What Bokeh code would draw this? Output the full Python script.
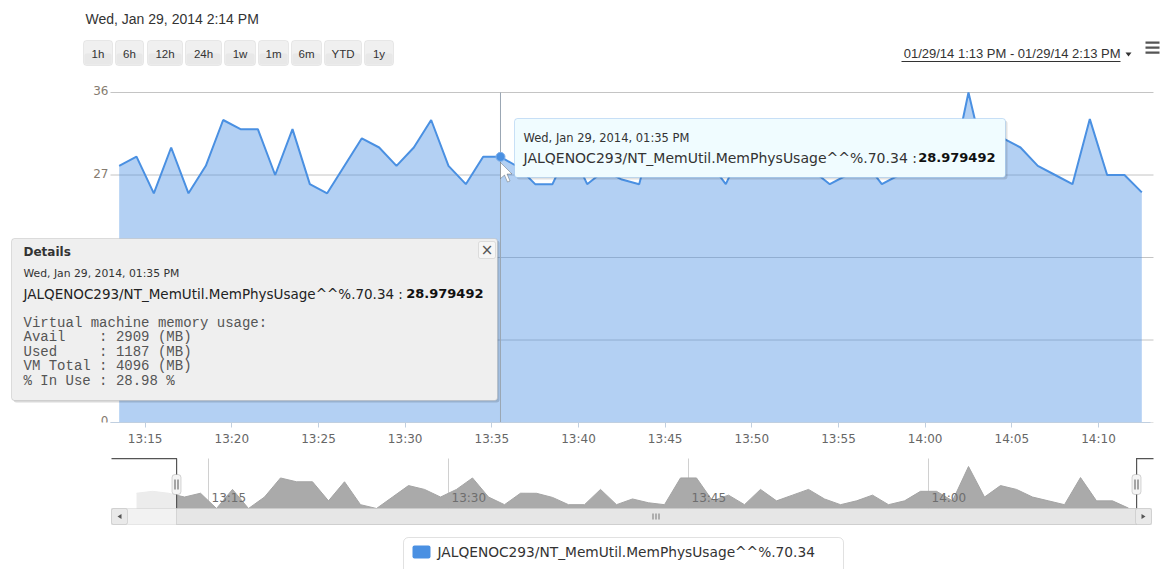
import pandas as pd
from bokeh.plotting import figure
from bokeh.layouts import column
from bokeh.models import (ColumnDataSource, FixedTicker, DatetimeTickFormatter,
                          Range1d, BoxAnnotation, Label, PolyAnnotation)
from bokeh.core.properties import value
from bokeh.embed import file_html
from bokeh.resources import INLINE

# ---------------- data ----------------
series_name = "JALQENOC293/NT_MemUtil.MemPhysUsage^^%.70.34"
first_sample = "2014-01-29 13:13:30"
mem_usage = [28.0, 29.0, 25.0, 30.0, 25.0, 28.0, 33.0, 32.0, 32.0, 27.0,
             32.0, 26.0, 25.0, 28.0, 31.0, 30.0, 28.0, 30.0, 33.0, 28.0,
             26.0, 29.0, 28.979492, 27.9, 26.0, 26.0, 30.0, 26.0, 27.5, 26.5,
             26.0, 33.0, 33.0, 27.0, 28.5, 26.0, 30.0, 27.0, 28.5, 30.0,
             27.5, 26.0, 27.0, 28.5, 26.0, 27.0, 29.5, 29.5, 27.0, 36.0,
             28.0, 31.0, 30.0, 28.0, 27.0, 26.0, 33.1, 27.0, 27.0, 25.1]
nav_lead_first = "2014-01-29 13:10:30"
nav_lead_usage = [29.0, 29.5, 29.0]          # earlier samples, only in navigator
hover_index = 22
hover_value_text = "28.979492"
hover_date_text = "Wed, Jan 29, 2014, 01:35 PM"
view_start = "2014-01-29 13:13:00"
view_end = "2014-01-29 14:13:00"
day = "2014-01-29"
x_tick_labels = ["13:15", "13:20", "13:25", "13:30", "13:35", "13:40",
                 "13:45", "13:50", "13:55", "14:00", "14:05", "14:10"]
nav_tick_labels = ["13:15", "13:30", "13:45", "14:00"]
y_ticks = [0, 9, 18, 27, 36]
y_tick_labels = ["0", "9", "18", "27", "36"]
range_buttons = ["1h", "6h", "12h", "24h", "1w", "1m", "6m", "YTD", "1y"]
header_text = "Wed, Jan 29, 2014 2:14 PM"
range_text = "01/29/14 1:13 PM - 01/29/14 2:13 PM"
details_title = "Details"
details_lines = ["Virtual machine memory usage:",
                 "Avail    : 2909 (MB)",
                 "Used     : 1187 (MB)",
                 "VM Total : 4096 (MB)",
                 "% In Use : 28.98 %"]

# ---------------- helpers ----------------
EPOCH = pd.Timestamp("1970-01-01")


def ms(t):
    return (pd.Timestamp(t) - EPOCH) / pd.Timedelta(milliseconds=1)


times = pd.date_range(first_sample, periods=len(mem_usage), freq="1min")
t_ms = [ms(t) for t in times]
lead_times = pd.date_range(nav_lead_first, periods=len(nav_lead_usage), freq="1min")
nav_ms = [ms(t) for t in lead_times] + t_ms
nav_vals = nav_lead_usage + mem_usage
x_tick_ms = [ms(day + " " + s) for s in x_tick_labels]
nav_tick_ms = [ms(day + " " + s) for s in nav_tick_labels]

FIG_W = 1160
MAIN_H = 455
NAV_H = 114
MAIN_OY = 0
NAV_OY = MAIN_H
MIN_MS = 60000.0

BLUE = "#4a90e2"
SANS = "DejaVu Sans"


def box(fig, oy, x0, y0, x1, y1, fill=None, alpha=1.0, line=None, lw=1, r=0):
    fig.add_layout(BoxAnnotation(
        left=x0, right=x1, top=y0 - oy, bottom=y1 - oy,
        left_units="canvas", right_units="canvas", top_units="canvas", bottom_units="canvas",
        fill_color=fill, fill_alpha=(alpha if fill else 0), line_color=line,
        line_width=lw, border_radius=r))


def label(fig, oy, x, y, text, size="12px", color="#333333", font=SANS,
          style="normal", align="left", baseline="middle"):
    fig.add_layout(Label(x=x, y=y - oy, x_units="canvas", y_units="canvas",
                         text=text, text_font=font, text_font_size=size,
                         text_color=color, text_font_style=style,
                         text_align=align, text_baseline=baseline))


def poly(fig, oy, xs, ys, fill, line=None):
    fig.add_layout(PolyAnnotation(xs=list(xs), ys=[y - oy for y in ys],
                                  xs_units="canvas", ys_units="canvas",
                                  fill_color=fill, fill_alpha=1.0, line_color=line,
                                  line_width=1))


# ---------------- main chart ----------------
MAIN_PX_PER_MIN = 17.333
view_px = 110            # page x of view_start
frame_bottom = 422       # page y of value 0
px_per_unit = (frame_bottom - 92) / 36.0
mx0 = ms(view_start) - view_px / MAIN_PX_PER_MIN * MIN_MS
mx1 = ms(view_start) + (FIG_W - view_px) / MAIN_PX_PER_MIN * MIN_MS
y_top = frame_bottom / px_per_unit

p = figure(width=FIG_W, height=MAIN_H, x_axis_type="datetime",
           x_range=Range1d(mx0, mx1), y_range=Range1d(0, y_top),
           y_axis_location=None,
           output_backend="svg", toolbar_location=None,
           min_border_left=0, min_border_right=0, min_border_top=0,
           min_border_bottom=MAIN_H - frame_bottom)
p.outline_line_color = None
p.background_fill_color = "white"
p.border_fill_color = "white"
p.xgrid.visible = False
p.ygrid.visible = False

p.xaxis.ticker = FixedTicker(ticks=x_tick_ms)
p.xaxis.bounds = (ms(view_start), ms(view_end))
p.xaxis.formatter = DatetimeTickFormatter(minutes="%H:%M", hourmin="%H:%M", hours="%H:%M",
                                          minsec="%H:%M")
p.xaxis.major_label_overrides = {t: s for t, s in zip(x_tick_ms, x_tick_labels)}
p.xaxis.axis_line_color = "#c0cfe0"
p.xaxis.major_tick_line_color = "#c0cfe0"
p.xaxis.major_tick_in = 0
p.xaxis.major_tick_out = 5
p.xaxis.minor_tick_line_color = None
p.xaxis.major_label_text_font = SANS
p.xaxis.major_label_text_font_size = "12px"
p.xaxis.major_label_text_color = "#666666"
p.xaxis.major_label_standoff = 4

# horizontal grid lines and y tick labels (drawn through the y scale)
p.segment(x0=[ms(view_start)] * len(y_ticks),
          x1=[ms(view_end) + 3 * MIN_MS / MAIN_PX_PER_MIN] * len(y_ticks),
          y0=y_ticks, y1=y_ticks, line_color="#c4c4c4", line_width=1, level="underlay")
p.text(x=[ms(view_start)] * len(y_ticks), y=y_ticks, text=y_tick_labels,
       x_offset=-2, y_offset=-2, text_align="right", text_baseline="alphabetic",
       text_font=value(SANS), text_font_size=value("12px"), text_color="#857b6f")

src = ColumnDataSource(dict(t=t_ms, v=mem_usage))
p.varea(x="t", y1=0, y2="v", source=src, fill_color=BLUE, fill_alpha=0.42)
p.line(x="t", y="v", source=src, line_color=BLUE, line_width=2)

p.segment(x0=[t_ms[hover_index]], x1=[t_ms[hover_index]], y0=[0], y1=[36],
          line_color="#9aa6b4", line_width=1)
p.scatter(x=[t_ms[hover_index]], y=[mem_usage[hover_index]], size=9,
          fill_color=BLUE, line_color="#7fb0ea", line_width=1)

# header
label(p, MAIN_OY, 85, 18, header_text, size="14px", color="#333333", font="Liberation Sans")
button_edges = [(83, 112), (115, 143), (147, 182), (185, 221), (224, 255),
                (258, 288), (291, 321), (324, 361), (364, 393)]
for txt, (bx0, bx1) in zip(range_buttons, button_edges):
    box(p, MAIN_OY, bx0, 40, bx1, 65, fill="#f0f0f0", line="#c4c4c4", r=3)
    box(p, MAIN_OY, bx0 + 1, 53, bx1 - 1, 64, fill="#e2e2e2", alpha=0.6, r=2)
    label(p, MAIN_OY, (bx0 + bx1) / 2, 53, txt, size="11.5px", color="#333333",
          font="Liberation Sans", align="center")

label(p, MAIN_OY, 1120, 53, range_text, size="13px", color="#333333",
      font="Liberation Sans", align="right")
box(p, MAIN_OY, 901, 60.5, 1120, 61.5, fill="#333333")
poly(p, MAIN_OY, [1125, 1131, 1128], [52, 52, 56], fill="#333333")
for yy in (41, 46, 51):
    box(p, MAIN_OY, 1145, yy, 1159, yy + 2.2, fill="#555555")

# hover tooltip
box(p, MAIN_OY, 516, 120, 1007, 179, fill="#000000", alpha=0.12, r=3)
box(p, MAIN_OY, 514, 118, 1005, 177, fill="#f0fcff", line="#5b9be0", r=3)
label(p, MAIN_OY, 523, 137, hover_date_text, size="11.5px", color="#333333")
label(p, MAIN_OY, 523, 157, series_name + " : ", size="14px", color="#333333")
label(p, MAIN_OY, 995, 157, hover_value_text, size="13px", color="#111111",
      style="bold", align="right")

# mouse cursor
cx, cy = 500, 162
poly(p, MAIN_OY, [cx, cx, cx + 4, cx + 7, cx + 9.5, cx + 6.5, cx + 11.5],
     [cy, cy + 16, cy + 12.5, cy + 19.5, cy + 18.5, cy + 11.5, cy + 11.5],
     fill="#ffffff", line="#222222")

# details panel
box(p, MAIN_OY, 13, 240, 499, 402, fill="#000000", alpha=0.15, r=3)
box(p, MAIN_OY, 11, 238, 497, 400, fill="#efefef", line="#9a9a9a", r=3)
label(p, MAIN_OY, 23, 251, details_title, size="12px", color="#333333", style="bold")
box(p, MAIN_OY, 478, 241, 495, 258, fill="#f6f6f6", line="#a8a8a8", r=2)
label(p, MAIN_OY, 486.5, 249.5, "\u00d7", size="15px", color="#555555", align="center")
label(p, MAIN_OY, 23, 273, hover_date_text, size="10.8px", color="#333333")
label(p, MAIN_OY, 23, 293, series_name + " : ", size="13.5px", color="#222222")
label(p, MAIN_OY, 483, 293, hover_value_text, size="13px", color="#111111",
      style="bold", align="right")
for i, line_txt in enumerate(details_lines):
    label(p, MAIN_OY, 23, 322 + i * 14.5, line_txt.replace(" ", "\u00a0"), size="14px",
          color="#555555", font="Liberation Mono")

# ---------------- navigator ----------------
NAV_PX_PER_MIN = 16.0
nav_sel_px = 176              # page x of view_start in navigator
nav_sel_end_px = 1136         # page x of view_end in navigator
nav_band_top, nav_base_px, nav_peak_px = 458, 508, 466
nav_min, nav_max = min(nav_vals), max(nav_vals)
nav_unit_px = (nav_base_px - nav_peak_px) / (nav_max - nav_min)
nx0 = ms(view_start) - nav_sel_px / NAV_PX_PER_MIN * MIN_MS
nx1 = ms(view_start) + (FIG_W - nav_sel_px) / NAV_PX_PER_MIN * MIN_MS
ny0 = nav_min - (NAV_OY + NAV_H - nav_base_px) / nav_unit_px
ny1 = nav_min + (nav_base_px - NAV_OY) / nav_unit_px
nav_grid_top = nav_min + (nav_base_px - nav_band_top) / nav_unit_px

nav = figure(width=FIG_W, height=NAV_H, x_axis_type="datetime",
             x_range=Range1d(nx0, nx1), y_range=Range1d(ny0, ny1),
             x_axis_location=None, y_axis_location=None,
             output_backend="svg", toolbar_location=None,
             min_border_left=0, min_border_right=0, min_border_top=0, min_border_bottom=0)
nav.outline_line_color = None
nav.xgrid.visible = False
nav.ygrid.visible = False
nav.background_fill_color = "white"
nav.border_fill_color = "white"

nav.segment(x0=nav_tick_ms, x1=nav_tick_ms, y0=[nav_min] * len(nav_tick_ms),
            y1=[nav_grid_top] * len(nav_tick_ms), line_color="#d0d0d0", line_width=1,
            level="underlay")
nsrc = ColumnDataSource(dict(t=nav_ms, v=nav_vals))
nav.varea(x="t", y1=nav_min, y2="v", source=nsrc, fill_color="#aaaaaa", fill_alpha=1.0)
nav.line(x="t", y="v", source=nsrc, line_color="#a4a4a4", line_width=1)
nav.text(x=nav_tick_ms, y=[nav_min] * len(nav_tick_ms), text=nav_tick_labels,
         x_offset=3, y_offset=-11, text_font=value(SANS), text_font_size=value("12px"),
         text_color="#6e6e6e", text_baseline="middle", text_align="left")

# masks outside the selected range
box(nav, NAV_OY, 111, nav_band_top, nav_sel_px, nav_base_px, fill="#ffffff", alpha=0.78)
box(nav, NAV_OY, nav_sel_end_px, nav_band_top, 1153, nav_base_px, fill="#ffffff", alpha=0.78)
# outline
box(nav, NAV_OY, 111, 457.5, nav_sel_px + 0.5, 458.7, fill="#555555")
box(nav, NAV_OY, nav_sel_px - 0.5, 458, nav_sel_px + 0.7, nav_base_px, fill="#555555")
box(nav, NAV_OY, nav_sel_end_px - 0.5, 457.5, 1153, 458.7, fill="#555555")
box(nav, NAV_OY, nav_sel_end_px - 0.5, 458, nav_sel_end_px + 0.7, nav_base_px, fill="#555555")

# scrollbar
box(nav, NAV_OY, 111, 508, 1151, 524, fill="#f2f2f2", line="#bdbdbd")
box(nav, NAV_OY, nav_sel_px, 508, nav_sel_end_px, 524, fill="#e6e6e6", line="#9a9a9a")
box(nav, NAV_OY, 111, 508, 127, 524, fill="#e9e9e9", line="#9a9a9a", r=2)
box(nav, NAV_OY, 1135, 508, 1151, 524, fill="#e9e9e9", line="#9a9a9a", r=2)
poly(nav, NAV_OY, [121, 121, 117], [513.5, 518.5, 516], fill="#555555")
poly(nav, NAV_OY, [1141, 1141, 1145], [513.5, 518.5, 516], fill="#555555")
for gx in (652, 655, 658):
    box(nav, NAV_OY, gx, 513, gx + 1, 519, fill="#777777")

# handles
for hx in (nav_sel_px, nav_sel_end_px):
    box(nav, NAV_OY, hx - 4.5, 474, hx + 4.5, 494, fill="#f4f4f4", line="#777777", r=3)
    box(nav, NAV_OY, hx - 2, 479, hx - 1, 489, fill="#555555")
    box(nav, NAV_OY, hx + 1, 479, hx + 2, 489, fill="#555555")

# legend
box(nav, NAV_OY, 403, 537, 843, 580, fill="#ffffff", line="#9a9a9a", r=5)
box(nav, NAV_OY, 412, 545, 430, 558, fill=BLUE, r=2)
label(nav, NAV_OY, 437, 551.5, series_name, size="13.75px", color="#333333")

layout = column(p, nav, spacing=0)
open("out.html", "w").write(file_html(layout, INLINE))
